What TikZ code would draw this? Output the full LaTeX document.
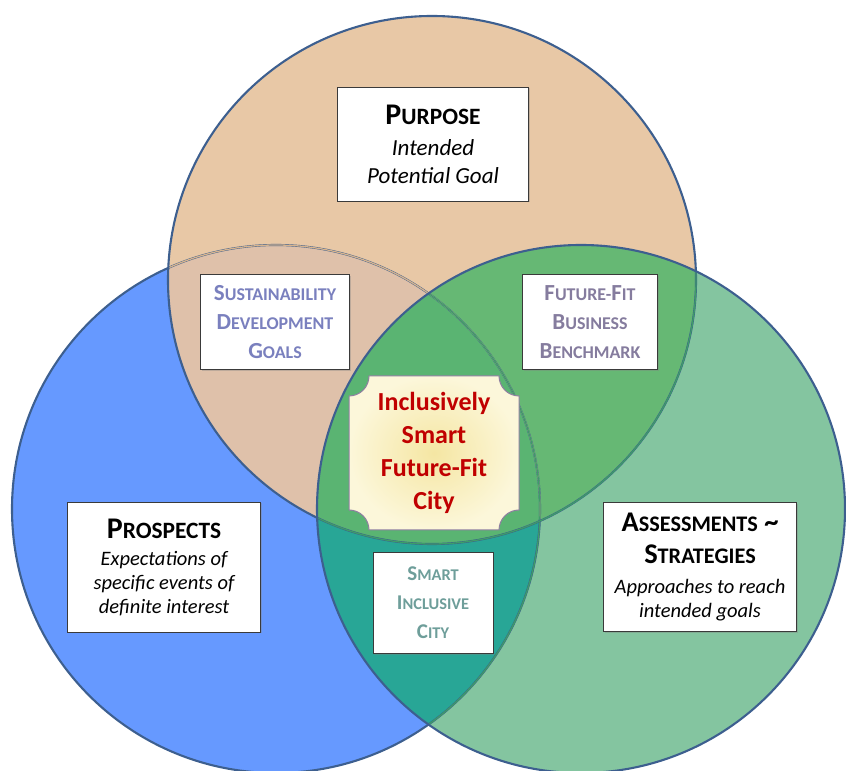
\documentclass[tikz,border=0pt]{standalone}
\usepackage{fontspec}
\setmainfont{Carlito}
\usetikzlibrary{shadows}

\definecolor{blueset}{HTML}{6699FF}
\definecolor{peachset}{HTML}{E8C8A6}
\definecolor{greenset}{HTML}{84C5A0}
\definecolor{peachblue}{HTML}{DFC1AA}
\definecolor{peachgreen}{HTML}{66B874}
\definecolor{bluegreen}{HTML}{28A696}
\definecolor{allthree}{HTML}{5AB472}
\definecolor{ringblue}{HTML}{3D5F8F}
\definecolor{faintpeach}{HTML}{D6B48F}
\definecolor{faintgreen}{HTML}{3E9C68}
\definecolor{boxgray}{HTML}{3A3A3A}
\definecolor{sdgtext}{HTML}{7A80BE}
\definecolor{fftext}{HTML}{857C9E}
\definecolor{sictext}{HTML}{6E9E9A}
\definecolor{cityred}{HTML}{C00000}
\definecolor{cityin}{HTML}{F5E6A3}
\definecolor{cityout}{HTML}{FCF7DA}
\definecolor{cityedge}{HTML}{8E7FA0}

% fake small caps: first letter, then the rest scaled down
\newcommand{\smc}[2]{#1\scalebox{0.78}{#2}}

\begin{document}
\begin{tikzpicture}[x=1pt,y=1pt,
    ring/.style={draw=ringblue,line width=2.1pt},
    faint/.style={line width=1.3pt},
    box/.style={draw=boxgray,fill=white,line width=0.9pt,inner sep=0pt,align=center,
      drop shadow={shadow xshift=1.2pt,shadow yshift=-1.2pt,opacity=0.35}}]
    \useasboundingbox (0,0) rectangle (846,771);
    \coordinate (top) at (432,491);
    \coordinate (left) at (276,262);
    \coordinate (right) at (581,262);
    \def\rad{264}

    % the three sets and their overlaps
    \fill[blueset] (left) circle (\rad);
    \fill[peachset] (top) circle (\rad);
    \fill[greenset] (right) circle (\rad);
    \begin{scope}
        \clip (top) circle (\rad);
        \fill[peachgreen] (right) circle (\rad);
    \end{scope}
    \begin{scope}
        \clip (left) circle (\rad);
        \fill[peachblue] (top) circle (\rad);
        \fill[bluegreen] (right) circle (\rad);
        \clip (top) circle (\rad);
        \fill[allthree] (right) circle (\rad);
    \end{scope}

    % outlines
    \draw[ring] (left) circle (\rad);
    \begin{scope}
        \clip (top) circle (\rad);
        \draw[faint,faintpeach] (left) circle (\rad);
    \end{scope}
    \begin{scope}
        \clip (right) circle (\rad);
        \draw[faint,faintgreen] (left) circle (\rad);
    \end{scope}
    \draw[ring] (top) circle (\rad);
    \begin{scope}
        \clip (right) circle (\rad);
        \draw[faint,faintgreen] (top) circle (\rad);
    \end{scope}
    \draw[ring] (right) circle (\rad);

    % labels of the sets
    \node[box,minimum width=191pt,minimum height=114pt,font=\fontsize{23}{28}\selectfont] (purpose) at (433,627)
        {{\bfseries\fontsize{30}{30}\selectfont\smc{P}{URPOSE}}\\[3pt]
         {\itshape Intended}\\{\itshape Potential Goal}};
    \node[box,minimum width=193pt,minimum height=130pt,font=\fontsize{20.5}{24}\selectfont] (prospects) at (164,204)
        {{\bfseries\fontsize{30}{30}\selectfont\smc{P}{ROSPECTS}}\\[3pt]
         {\itshape Expectations of}\\{\itshape specific events of}\\{\itshape definite interest}};
    \node[box,minimum width=193pt,minimum height=129pt,font=\fontsize{20.5}{24}\selectfont] (assess) at (700,204)
        {{\bfseries\fontsize{28.5}{30}\selectfont\smc{A}{SSESSMENTS} \textasciitilde}\\[8pt]
         {\bfseries\fontsize{28.5}{30}\selectfont\smc{S}{TRATEGIES}}\\[6pt]
         {\itshape Approaches to reach}\\{\itshape intended goals}};

    % labels of the overlaps
    \node[box,minimum width=149pt,minimum height=95pt,text=sdgtext,font=\fontsize{23}{29}\selectfont\bfseries] (sdg) at (275,449)
        {\smc{S}{USTAINABILITY}\\\smc{D}{EVELOPMENT}\\\smc{G}{OALS}};
    \node[box,minimum width=135pt,minimum height=95pt,text=fftext,font=\fontsize{23}{29}\selectfont\bfseries] (ffbb) at (590,449)
        {\smc{F}{UTURE-}\smc{F}{IT}\\\smc{B}{USINESS}\\\smc{B}{ENCHMARK}};
    \node[box,minimum width=120pt,minimum height=101pt,text=sictext,font=\fontsize{21}{29}\selectfont\bfseries] (sic) at (433,168)
        {\smc{S}{MART}\\\smc{I}{NCLUSIVE}\\\smc{C}{ITY}};

    % centre of the diagram
    \coordinate (cityc) at (434,318);
    \shade[inner color=cityin,outer color=cityout,draw=cityedge,line width=1pt]
        ([shift={(-65,77)}]cityc) -- ([shift={(65,77)}]cityc)
        arc[start angle=180,end angle=270,radius=20] -- ([shift={(85,-57)}]cityc)
        arc[start angle=90,end angle=180,radius=20] -- ([shift={(-65,-77)}]cityc)
        arc[start angle=0,end angle=90,radius=20] -- ([shift={(-85,57)}]cityc)
        arc[start angle=270,end angle=360,radius=20] -- cycle;
    \node[align=center,text=cityred,font=\fontsize{26}{33}\selectfont\bfseries] (city) at (cityc)
        {Inclusively\\Smart\\Future-Fit\\City};
\end{tikzpicture}
\end{document}
